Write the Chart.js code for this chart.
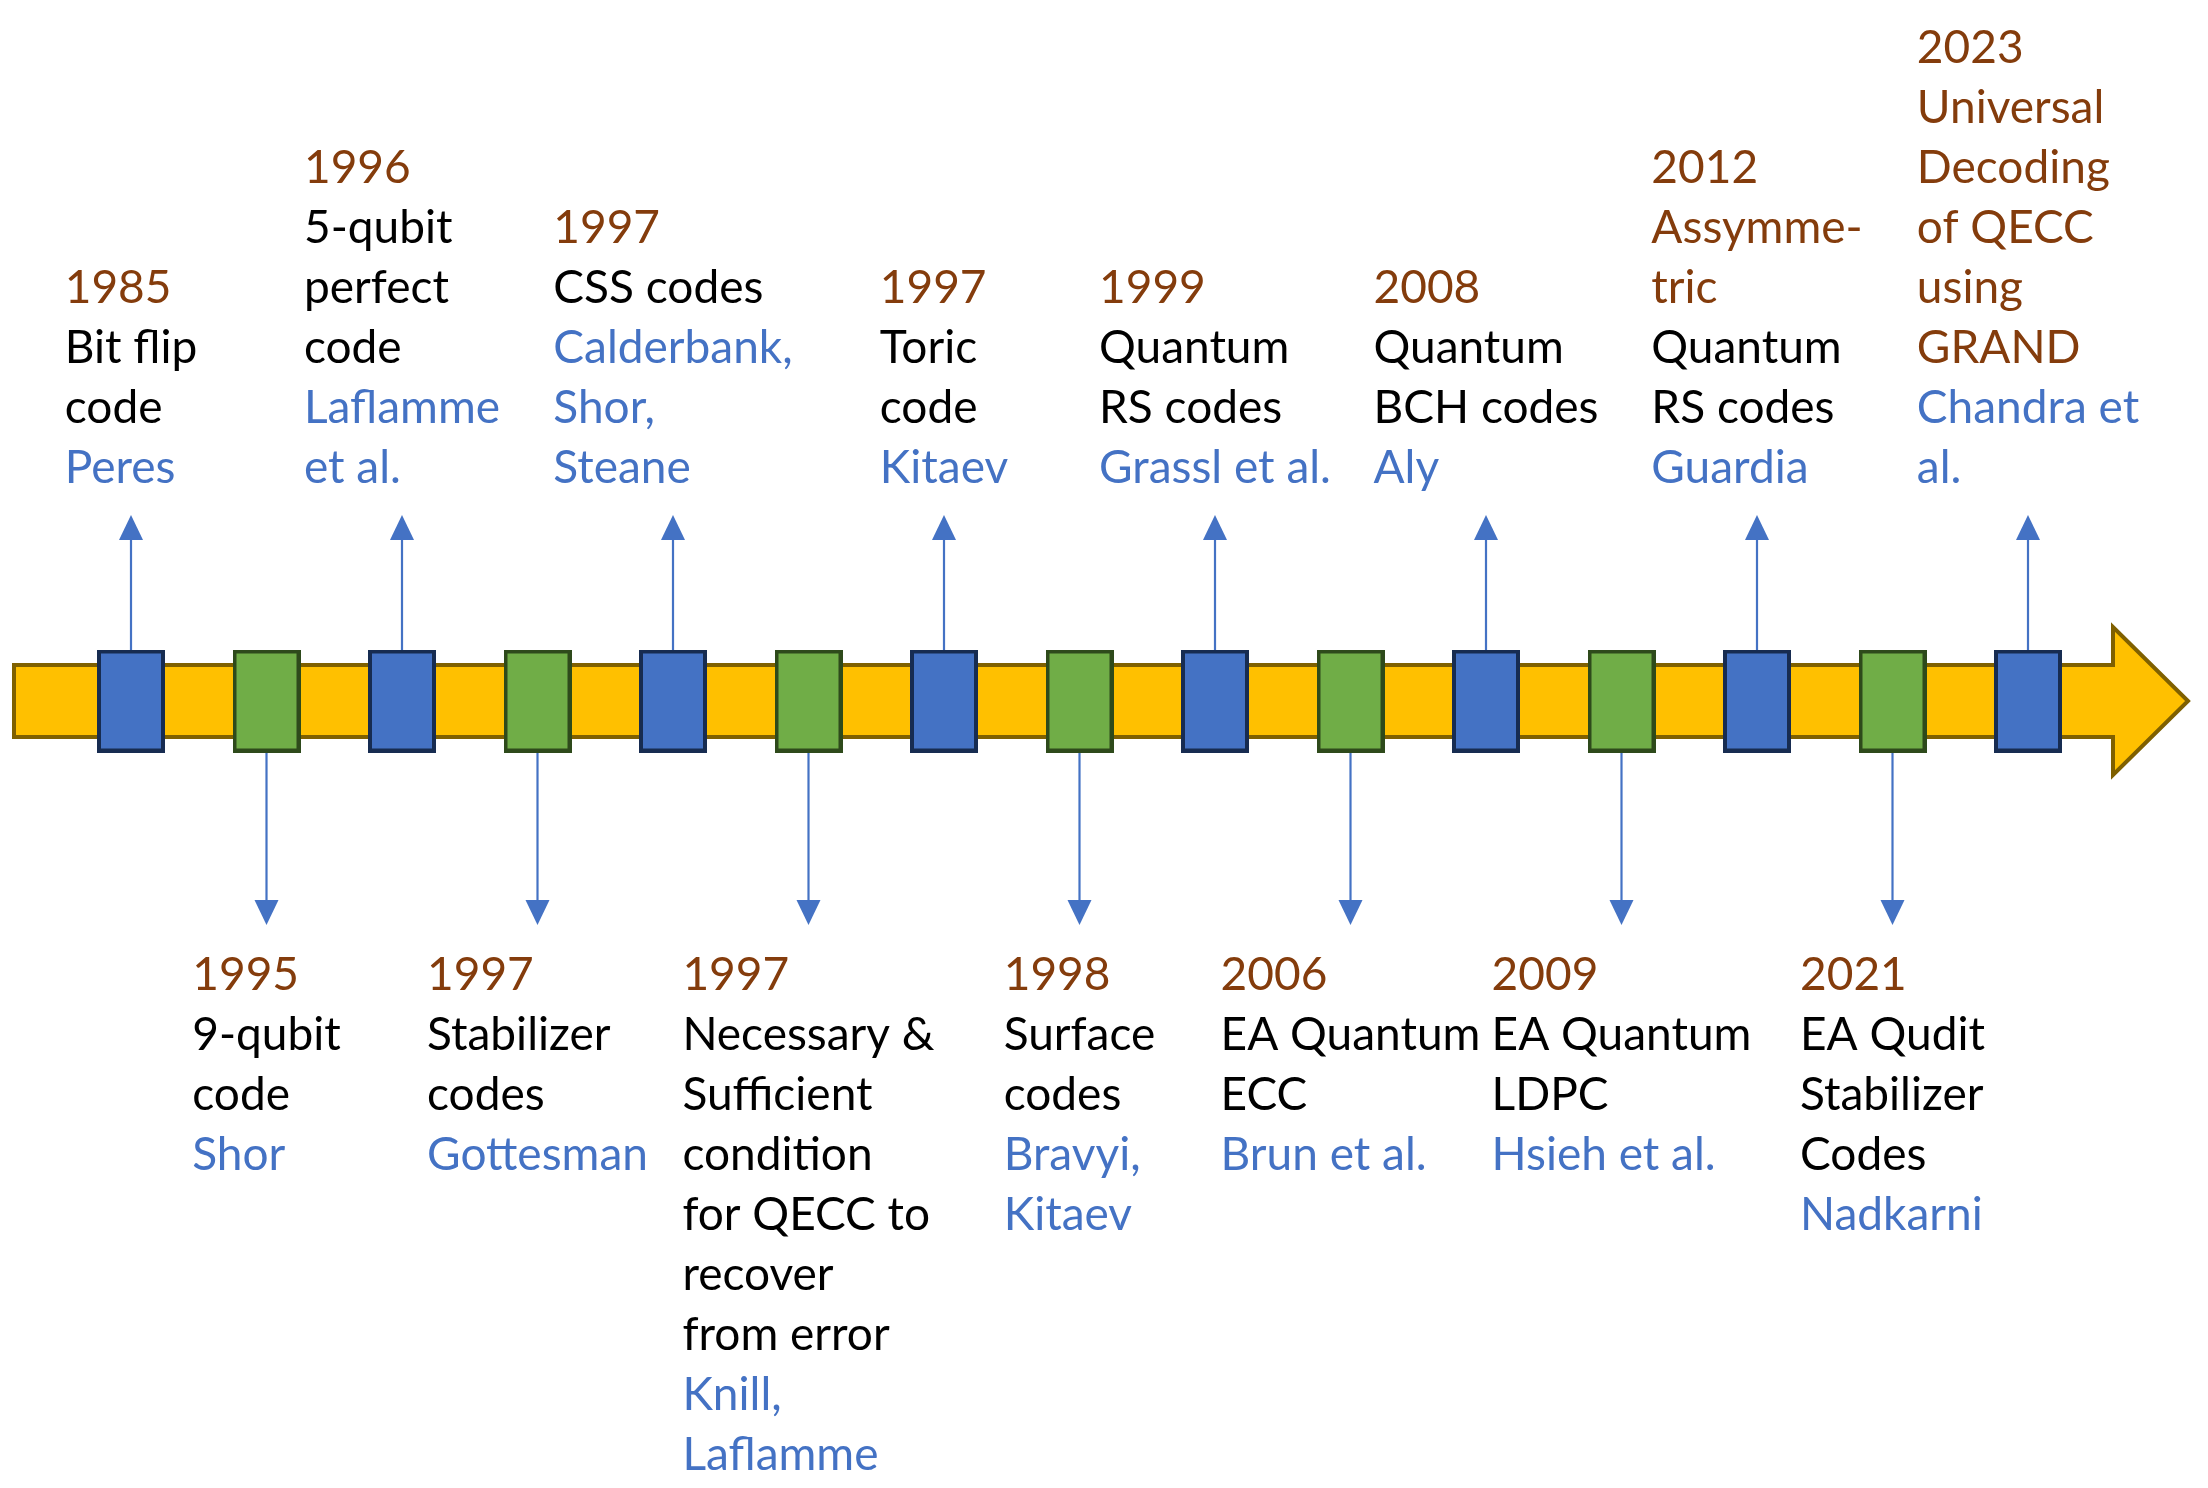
<!DOCTYPE html>
<html>
<head>
<meta charset="utf-8">
<style>
  html, body { margin: 0; padding: 0; background: #fff; }
  #chart { display: block; }
</style>
<script src="https://cdn.jsdelivr.net/npm/chart.js@4.4.1/dist/chart.umd.min.js"></script>
</head>
<body>
<canvas id="chart" width="2208" height="1488"></canvas>
<script>
// timeline entries, left to right
const years = ['1985', '1995', '1996', '1997', '1997', '1997', '1997', '1998',
  '1999', '2006', '2008', '2009', '2012', '2021', '2023'];
const titles = [
  ['Bit flip', 'code'],
  ['9-qubit', 'code'],
  ['5-qubit', 'perfect', 'code'],
  ['Stabilizer', 'codes'],
  ['CSS codes'],
  ['Necessary &', 'Sufficient', 'condition', 'for QECC to', 'recover', 'from error'],
  ['Toric', 'code'],
  ['Surface', 'codes'],
  ['Quantum', 'RS codes'],
  ['EA Quantum', 'ECC'],
  ['Quantum', 'BCH codes'],
  ['EA Quantum', 'LDPC'],
  ['Assymme-', 'tric', 'Quantum', 'RS codes'],
  ['EA Qudit', 'Stabilizer', 'Codes'],
  ['Universal', 'Decoding', 'of QECC', 'using', 'GRAND']
];
// how many leading title lines are written in the year colour
const accentLines = [0, 0, 0, 0, 0, 0, 0, 0, 0, 0, 0, 0, 2, 0, 5];
const authors = [
  ['Peres'],
  ['Shor'],
  ['Laflamme', 'et al.'],
  ['Gottesman'],
  ['Calderbank,', 'Shor,', 'Steane'],
  ['Knill,', 'Laflamme'],
  ['Kitaev'],
  ['Bravyi,', 'Kitaev'],
  ['Grassl et al.'],
  ['Brun et al.'],
  ['Aly'],
  ['Hsieh et al.'],
  ['Guardia'],
  ['Nadkarni'],
  ['Chandra et', 'al.']
];

const YEAR_COL = '#843C0C';
const TEXT_COL = '#000000';
const AUTH_COL = '#4472C4';
const FONT = '46px Lato';
const LINE_H = 60;

function makeBox(fill, stroke) {
  const c = document.createElement('canvas');
  c.width = 68; c.height = 103;
  const g = c.getContext('2d');
  g.fillStyle = fill;
  g.fillRect(0, 0, 68, 103);
  g.strokeStyle = stroke;
  g.lineWidth = 4;
  g.strokeRect(2, 2, 64, 99);
  return c;
}
const blueBox = makeBox('#4472C4', '#172C51');
const greenBox = makeBox('#70AD47', '#2E4A1B');

const points = years.map((y, i) => ({ x: i, y: 0 }));
const boxStyles = years.map((y, i) => i % 2 === 0 ? blueBox : greenBox);

const timelinePlugin = {
  id: 'timeline',
  beforeDatasetsDraw(chart) {
    const ctx = chart.ctx;
    const ys = chart.scales.y;
    const cy = ys.getPixelForValue(0);
    const left = 14, headX = 2113, tipX = 2188;
    ctx.save();
    ctx.beginPath();
    ctx.moveTo(left, cy - 36);
    ctx.lineTo(headX, cy - 36);
    ctx.lineTo(headX, cy - 74);
    ctx.lineTo(tipX, cy);
    ctx.lineTo(headX, cy + 74);
    ctx.lineTo(headX, cy + 36);
    ctx.lineTo(left, cy + 36);
    ctx.closePath();
    ctx.fillStyle = '#FFC000';
    ctx.fill();
    ctx.strokeStyle = '#7F6000';
    ctx.lineWidth = 4;
    ctx.lineJoin = 'miter';
    ctx.stroke();
    ctx.restore();
  },
  afterDatasetsDraw(chart) {
    const ctx = chart.ctx;
    const xs = chart.scales.x, ys = chart.scales.y;
    const cy = ys.getPixelForValue(0);
    ctx.save();
    ctx.font = FONT;
    ctx.textBaseline = 'middle';
    ctx.textAlign = 'left';
    years.forEach((yr, i) => {
      const cx = xs.getPixelForValue(i);
      const up = i % 2 === 0;
      // arrow
      ctx.strokeStyle = '#4472C4';
      ctx.fillStyle = '#4472C4';
      ctx.lineWidth = 2.2;
      const start = up ? cy - 51 : cy + 52;
      const tip = up ? cy - 186 : cy + 224;
      const base = up ? tip + 25 : tip - 25;
      ctx.beginPath();
      ctx.moveTo(cx, start);
      ctx.lineTo(cx, base);
      ctx.stroke();
      ctx.beginPath();
      ctx.moveTo(cx - 12, base);
      ctx.lineTo(cx + 12, base);
      ctx.lineTo(cx, tip);
      ctx.closePath();
      ctx.fill();

      // label block
      const lines = [{ t: yr, c: YEAR_COL }];
      titles[i].forEach((t, k) => lines.push({ t, c: k < accentLines[i] ? YEAR_COL : TEXT_COL }));
      authors[i].forEach(t => lines.push({ t, c: AUTH_COL }));
      const w = Math.max(...lines.map(l => ctx.measureText(l.t).width));
      const lx = cx - w / 2;
      const firstY = up ? cy - 233 - (lines.length - 1) * LINE_H : cy + 274;
      lines.forEach((l, k) => {
        ctx.fillStyle = l.c;
        ctx.fillText(l.t, lx, firstY + k * LINE_H);
      });
    });
    ctx.restore();
  }
};

new Chart(document.getElementById('chart'), {
  type: 'scatter',
  data: {
    datasets: [{
      data: points,
      pointStyle: boxStyles,
      pointRadius: 34,
      pointHoverRadius: 34
    }]
  },
  options: {
    responsive: false,
    animation: false,
    devicePixelRatio: 1,
    layout: { padding: 0, autoPadding: false },
    plugins: { legend: { display: false }, tooltip: { enabled: false } },
    scales: {
      x: { type: 'linear', display: false, min: -131 / 135.5, max: (2208 - 131) / 135.5 },
      y: { type: 'linear', display: false, min: -787, max: 701 }
    }
  },
  plugins: [timelinePlugin]
});
</script>
</body>
</html>
